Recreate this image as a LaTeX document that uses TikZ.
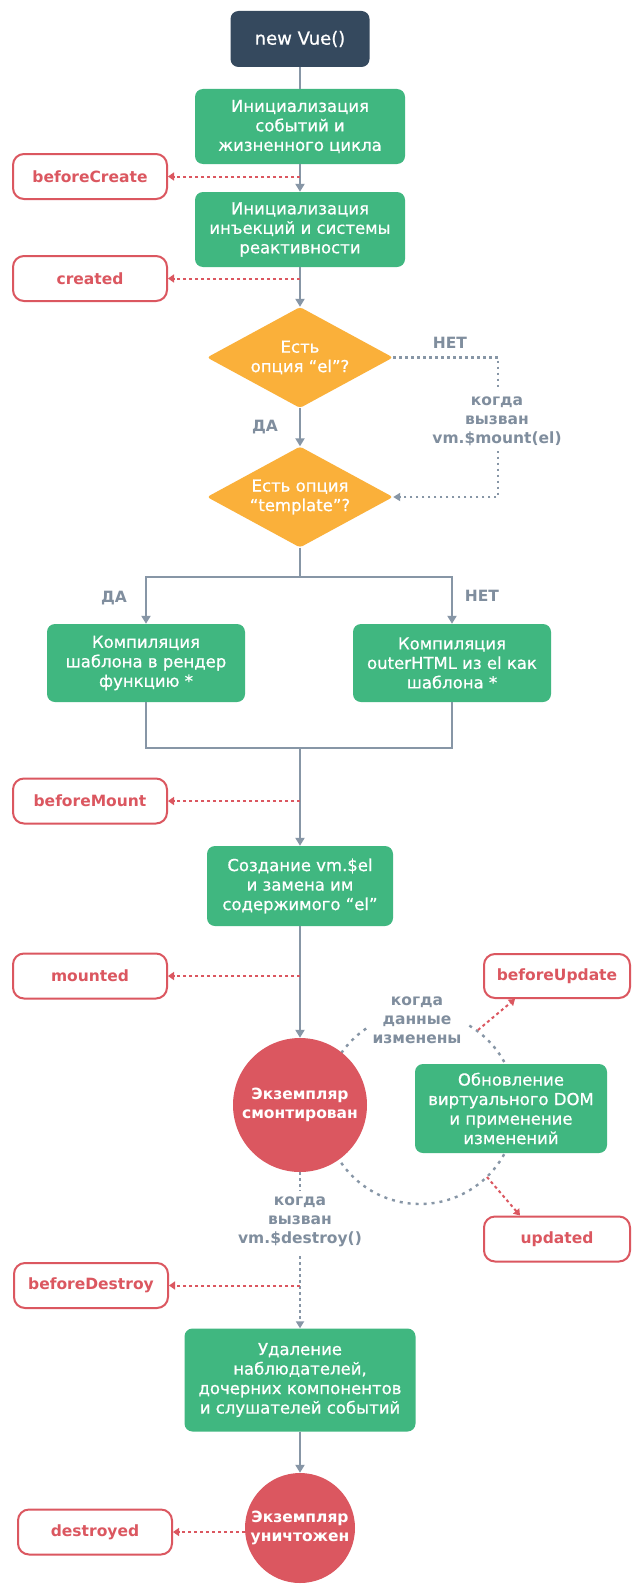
\documentclass[tikz,border=0pt]{standalone}
\usepackage{fontspec}
\setmainfont{DejaVu Sans}
\newfontfamily\medfam[FakeBold=0.7]{DejaVu Sans}
\usetikzlibrary{shapes.geometric,arrows.meta,backgrounds}

\definecolor{vgreen}{RGB}{64,183,128}
\definecolor{vnavy}{RGB}{53,73,94}
\definecolor{vorange}{RGB}{250,176,58}
\definecolor{vred}{RGB}{219,87,96}
\definecolor{vgrey}{RGB}{135,150,166}
\definecolor{vlabel}{RGB}{128,142,158}

\newcommand\procfont{\medfam\fontsize{16.5}{19.5}\selectfont}
\newcommand\labfont{\fontsize{15.5}{19}\selectfont\bfseries}

\tikzset{
  proc/.style={fill=vgreen, rounded corners=8pt, text=white, align=center,
    font=\procfont, inner sep=0pt},
  hookbox/.style={draw=vred, line width=2pt, rounded corners=11pt, fill=white,
    text=vred, font=\labfont, minimum width=154pt, minimum height=45pt, inner sep=0pt},
  decision/.style={diamond, fill=vorange, minimum width=186pt, minimum height=101pt,
    inner sep=0pt, rounded corners=3pt},
  dtext/.style={text=white, align=center, font=\procfont},
  lifestate/.style={circle, fill=vred, text=white, align=center, font=\labfont, inner sep=0pt},
  greylab/.style={text=vlabel, align=center, font=\labfont},
  masklab/.style={greylab, fill=white, inner sep=6pt},
  gline/.style={draw=vgrey, line width=2pt},
  garrow/.style={gline, -{Triangle[length=8pt,width=9pt]}},
  gdot/.style={draw=vgrey, line width=2.2pt, dash pattern=on 2.5pt off 3.5pt},
  gdotarrow/.style={gdot, -{Triangle[length=7pt,width=8pt]}},
  looparc/.style={draw=vgrey, line width=2.4pt, dash pattern=on 3pt off 5pt},
  hookarrow/.style={draw=vred, line width=2pt, dash pattern=on 3pt off 3pt,
    -{Triangle[length=6pt,width=8pt]}},
}

\begin{document}
\begin{tikzpicture}[x=1pt,y=-1pt]
\useasboundingbox (0,0) rectangle (632,1584);

% creation
\node[proc, fill=vnavy, minimum width=139pt, minimum height=56pt,
  font=\medfam\fontsize{18}{20}\selectfont] (nv) at (300,39) {new Vue()};
\node[proc, minimum width=210pt, minimum height=75pt] (ib1) at (300,126.5)
  {Инициализация\\событий и\\жизненного цикла};
\node[proc, minimum width=210pt, minimum height=75pt] (ib2) at (300,229.5)
  {Инициализация\\инъекций и системы\\реактивности};
\node[hookbox] (bc) at (90,176.5) {beforeCreate};
\node[hookbox] (cr) at (90,278.5) {created};

% element / template checks
\node[decision] (d1) at (300,357.5) {};
\node[dtext] (d1t) at (d1) {Есть\\опция “el”?};
\node[decision] (d2) at (300,497) {};
\node[dtext] (d2t) at (d2) {Есть опция\\“template”?};
\node[greylab] (no1) at (450,343) {НЕТ};
\node[greylab] (yes1) at (265,427) {ДА};
\node[masklab] (mtx) at (497,421) {когда\\вызван\\vm.\$mount(el)};
\coordinate (mr1) at (498,357.5);
\coordinate (mr2) at (498,497);

% compilation branches
\coordinate (split) at (300,577);
\coordinate (merge) at (300,748);
\node[proc, minimum width=198pt, minimum height=78pt] (cl) at (146,663)
  {Компиляция\\шаблона в рендер\\функцию *};
\node[proc, minimum width=198pt, minimum height=78pt] (crt) at (452,663)
  {Компиляция\\outerHTML из el как\\шаблона *};
\node[greylab] (yes2) at (114,598) {ДА};
\node[greylab] (no2) at (482,596) {НЕТ};

% mounting
\node[hookbox] (bm) at (90,801) {beforeMount};
\node[proc, minimum width=186pt, minimum height=80pt] (cv) at (300,886)
  {Создание vm.\$el\\и замена им\\содержимого “el”};
\node[hookbox] (mt) at (90,976) {mounted};
\node[lifestate, minimum size=134pt] (mc) at (300,1105) {Экземпляр\\смонтирован};

% update loop
\coordinate (arcc) at (420,1108);
\node[proc, minimum width=192pt, minimum height=89pt] (vd) at (511,1108.5)
  {Обновление\\виртуального DOM\\и применение\\изменений};
\node[hookbox, minimum width=146pt, minimum height=44pt] (bu) at (557,976) {beforeUpdate};
\node[hookbox, minimum width=146pt] (upd) at (557,1239) {updated};
\node[masklab] (dtx) at (417,1020) {когда\\данные\\изменены};
\coordinate (bua) at (478,1030);
\coordinate (upa) at (487,1177);

% teardown
\node[masklab] (xtx) at (300,1222) {когда\\вызван\\vm.\$destroy()};
\node[hookbox] (bd) at (91,1285.5) {beforeDestroy};
\node[proc, minimum width=231pt, minimum height=103pt] (rm) at (300,1380)
  {Удаление\\наблюдателей,\\дочерних компонентов\\и слушателей событий};
\node[lifestate, minimum size=110pt] (dc) at (300,1528) {Экземпляр\\уничтожен};
\node[hookbox] (ds) at (95,1532) {destroyed};

% connectors hidden behind labels and shapes
\begin{scope}[on background layer]
  \fill[white] (0,0) rectangle (632,1584);
  \draw[looparc] (arcc) circle[radius=96pt];
  \draw[gdotarrow] (d1.east) -- (mr1) -- (mr2) -- (d2.east);
  \draw[gdotarrow] (mc.south) -- (rm.north);
\end{scope}

% main flow
\draw[gline] (nv.south) -- (ib1.north);
\draw[garrow] (ib1.south) -- (ib2.north);
\draw[garrow] (ib2.south) -- (d1.north);
\draw[garrow] (d1.south) -- (d2.north);
\draw[gline] (d2.south) -- (split);
\draw[garrow] (split) -| (cl.north);
\draw[garrow] (split) -| (crt.north);
\draw[gline] (cl.south) |- (merge);
\draw[gline] (crt.south) |- (merge);
\draw[garrow] (merge) -- (cv.north);
\draw[garrow] (cv.south) -- (mc.north);
\draw[garrow] (rm.south) -- (dc.north);

% lifecycle hooks
\draw[hookarrow] (bc.east -| ib1.south) -- (bc.east);
\draw[hookarrow] (cr.east -| ib2.south) -- (cr.east);
\draw[hookarrow] (bm.east -| cv.north) -- (bm.east);
\draw[hookarrow] (mt.east -| cv.south) -- (mt.east);
\draw[hookarrow] (bua) -- ([xshift=-42pt]bu.south);
\draw[hookarrow] (upa) -- ([xshift=-37pt]upd.north);
\draw[hookarrow] (bd.east -| rm.north) -- (bd.east);
\draw[hookarrow] (dc.west |- ds.east) -- (ds.east);
\end{tikzpicture}
\end{document}
